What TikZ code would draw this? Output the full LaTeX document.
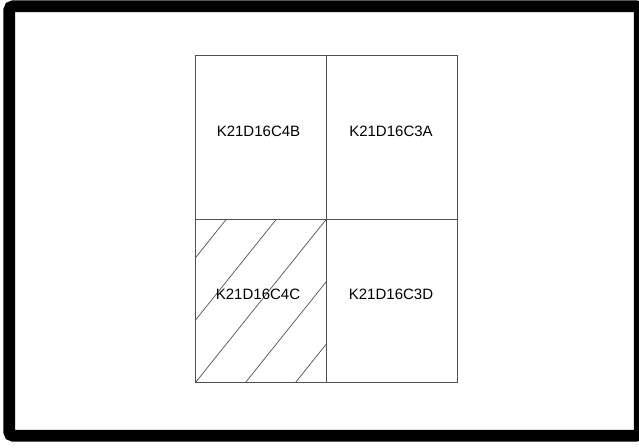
\documentclass[tikz,border=0pt]{standalone}
\usepackage{fontspec}
\setmainfont{Liberation Sans}
\usepackage{tikz}
\usetikzlibrary{positioning}
\definecolor{gridline}{HTML}{505050}

\begin{document}
\begin{tikzpicture}[x=1pt, y=-1pt,
    sheet/.style={draw=gridline, line width=0.9pt, rectangle, minimum width=131pt, minimum height=163.5pt, inner sep=0pt, outer sep=0pt},
    sheetname/.style={font=\fontsize{15}{18}\selectfont, inner sep=0pt},
    hatch/.style={draw=gridline, line width=0.7pt}]
      \useasboundingbox (0,0) rectangle (639,447);
      \draw[line width=11.7pt, rounded corners=4pt] (9.2,6.2) rectangle (639.8,435.8);

      \node[sheet] (c4b) at (261,137.25) {};
      \node[sheet, right=0pt of c4b] (c3a) {};
      \node[sheet, below=0pt of c4b] (c4c) {};
      \node[sheet, right=0pt of c4c] (c3d) {};

      % hatching of the lower left sheet
      \begin{scope}
        \clip (c4c.south west) rectangle (c4c.north east);
        \foreach \dx in {-100,-50,0,50,100}
          \draw[hatch] ([xshift=\dx pt]c4c.south west) -- ([xshift=\dx pt]c4c.north east);
      \end{scope}

      \node[sheetname] (t4b) at ([xshift=-2.5pt, yshift=6pt]c4b.center) {K21D16C4B};
      \node[sheetname] (t3a) at ([xshift=-1pt, yshift=6pt]c3a.center) {K21D16C3A};
      \node[sheetname] (t4c) at ([xshift=-3pt, yshift=6pt]c4c.center) {K21D16C4C};
      \node[sheetname] (t3d) at ([xshift=-1pt, yshift=6pt]c3d.center) {K21D16C3D};
    \end{tikzpicture}
\end{document}
